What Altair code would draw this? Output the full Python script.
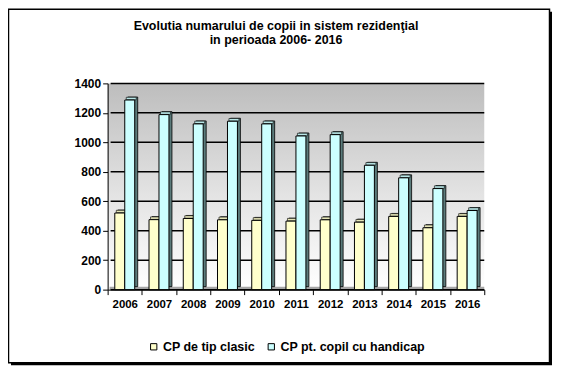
import altair as alt
import pandas as pd

years = ["2006", "2007", "2008", "2009", "2010", "2011", "2012", "2013", "2014", "2015", "2016"]
clasic = [520, 475, 483, 474, 470, 465, 474, 458, 497, 420, 497]
handicap = [1287, 1188, 1125, 1143, 1125, 1043, 1052, 844, 759, 686, 537]
series_names = ["CP de tip clasic", "CP pt. copil cu handicap"]
series_colors = ["#FFFFCC", "#CCFFFF"]
top_colors = ["#E6E6B8", "#B8E6E6"]
y_ticks = [0, 200, 400, 600, 800, 1000, 1200, 1400]
title_lines = ["Evolutia numarului de copii in sistem rezidenţial", "in perioada 2006- 2016"]

W, H = 378, 207
FONT = "Liberation Sans"

rows = []
for i, yr in enumerate(years):
    rows.append({"year": yr, "series": series_names[0], "value": clasic[i]})
    rows.append({"year": yr, "series": series_names[1], "value": handicap[i]})
df = pd.DataFrame(rows)
grid_df = pd.DataFrame({"value": y_ticks})
one = pd.DataFrame({"a": [0]})

xenc = alt.X("year:N", sort=years,
             scale=alt.Scale(paddingInner=0, paddingOuter=0),
             axis=alt.Axis(title=None, labelAngle=0, labelFont=FONT, labelFontSize=11.5,
                           labelFontWeight="bold", labelColor="black", domainColor="black",
                           tickColor="black", tickSize=5, tickBand="extent", labelPadding=4,
                           grid=False, zindex=2))
yscale = alt.Scale(domain=[0, 1400], nice=False)
yaxis = alt.Axis(title=None, values=y_ticks, format="d", labelOverlap=False,
                 labelBound=False, labelFont=FONT, labelFontSize=12,
                 labelFontWeight="bold", labelColor="black", domainColor="black",
                 tickColor="black", tickSize=5, labelPadding=2, grid=False, zindex=2)
yenc = alt.Y("value:Q", scale=yscale, axis=yaxis)

# outer frame with shadow
shadow = alt.Chart(one).mark_rect(fill="black").encode(
    x=alt.value(-97), x2=alt.value(446), y=alt.value(-72), y2=alt.value(283))
frame = alt.Chart(one).mark_rect(fill="white", stroke="black", strokeWidth=1.5).encode(
    x=alt.value(-99.5), x2=alt.value(443.5), y=alt.value(-74.5), y2=alt.value(280.5))

title1 = alt.Chart(one).mark_text(text=title_lines[0], font=FONT, fontSize=12.5,
                                  fontWeight="bold", color="black", align="center",
                                  baseline="alphabetic").encode(
    x=alt.value(169), y=alt.value(-54))
title2 = alt.Chart(one).mark_text(text=title_lines[1], font=FONT, fontSize=12.5,
                                  fontWeight="bold", color="black", align="center",
                                  baseline="alphabetic").encode(
    x=alt.value(169), y=alt.value(-40))

wall = alt.Chart(one).mark_rect(
    fill=alt.LinearGradient(gradient="linear",
                            stops=[alt.GradientStop(color="#BDBDBD", offset=0),
                                   alt.GradientStop(color="#E4E4E4", offset=0.55),
                                   alt.GradientStop(color="#FFFFFF", offset=1)],
                            x1=0, x2=0, y1=0, y2=1)
).encode(x=alt.value(0), x2=alt.value(W), y=alt.value(0), y2=alt.value(H))

floor = alt.Chart(one).mark_rect(fill="#A6A6A6").encode(
    x=alt.value(2), x2=alt.value(W), y=alt.value(H - 3), y2=alt.value(H))

grid = alt.Chart(grid_df).mark_rule(color="black", strokeWidth=1.5).encode(
    y=yenc, x=alt.value(3), x2=alt.value(W))

def back(name, dx):
    return alt.Chart(df).transform_filter(alt.datum.series == name).mark_bar(
        width=10, xOffset=dx + 3, yOffset=-3, y2Offset=-3, fill="#5B7B7B",
        stroke="black", strokeWidth=0.8).encode(x=xenc, y=yenc)

def topface(name, dx, col):
    return alt.Chart(df).transform_filter(alt.datum.series == name).mark_tick(
        size=10, thickness=2.5, xOffset=dx + 1.5, yOffset=-1.5, fill=col, opacity=1,
        stroke="black", strokeWidth=0.6).encode(x=xenc, y=yenc)

def front(name, dx):
    return alt.Chart(df).transform_filter(alt.datum.series == name).mark_bar(
        width=10, xOffset=dx, stroke="black", strokeWidth=1).encode(
        x=xenc, y=yenc,
        color=alt.Color("series:N",
                        scale=alt.Scale(domain=series_names, range=series_colors),
                        legend=alt.Legend(title=None, orient="none", direction="horizontal",
                                          legendX=40, legendY=258, symbolType="square",
                                          symbolSize=40, symbolStrokeColor="black",
                                          symbolStrokeWidth=1, symbolOpacity=1,
                                          labelFont=FONT, labelFontSize=12.5,
                                          labelFontWeight="bold", labelColor="black",
                                          columnPadding=10, symbolOffset=0,
                                          labelOffset=3, zindex=2)))

chart = alt.layer(
    shadow, frame, title1, title2, wall, floor, grid,
    back(series_names[0], -5), back(series_names[1], 5),
    topface(series_names[0], -5, top_colors[0]), topface(series_names[1], 5, top_colors[1]),
    front(series_names[0], -5), front(series_names[1], 5),
).properties(
    width=W, height=H,
    autosize=alt.AutoSizeParams(type="none"),
    padding={"left": 100, "top": 75, "right": 70, "bottom": 78},
).configure_view(stroke=None)

chart.save("out.html", embed_options={"renderer": "svg", "actions": False})
